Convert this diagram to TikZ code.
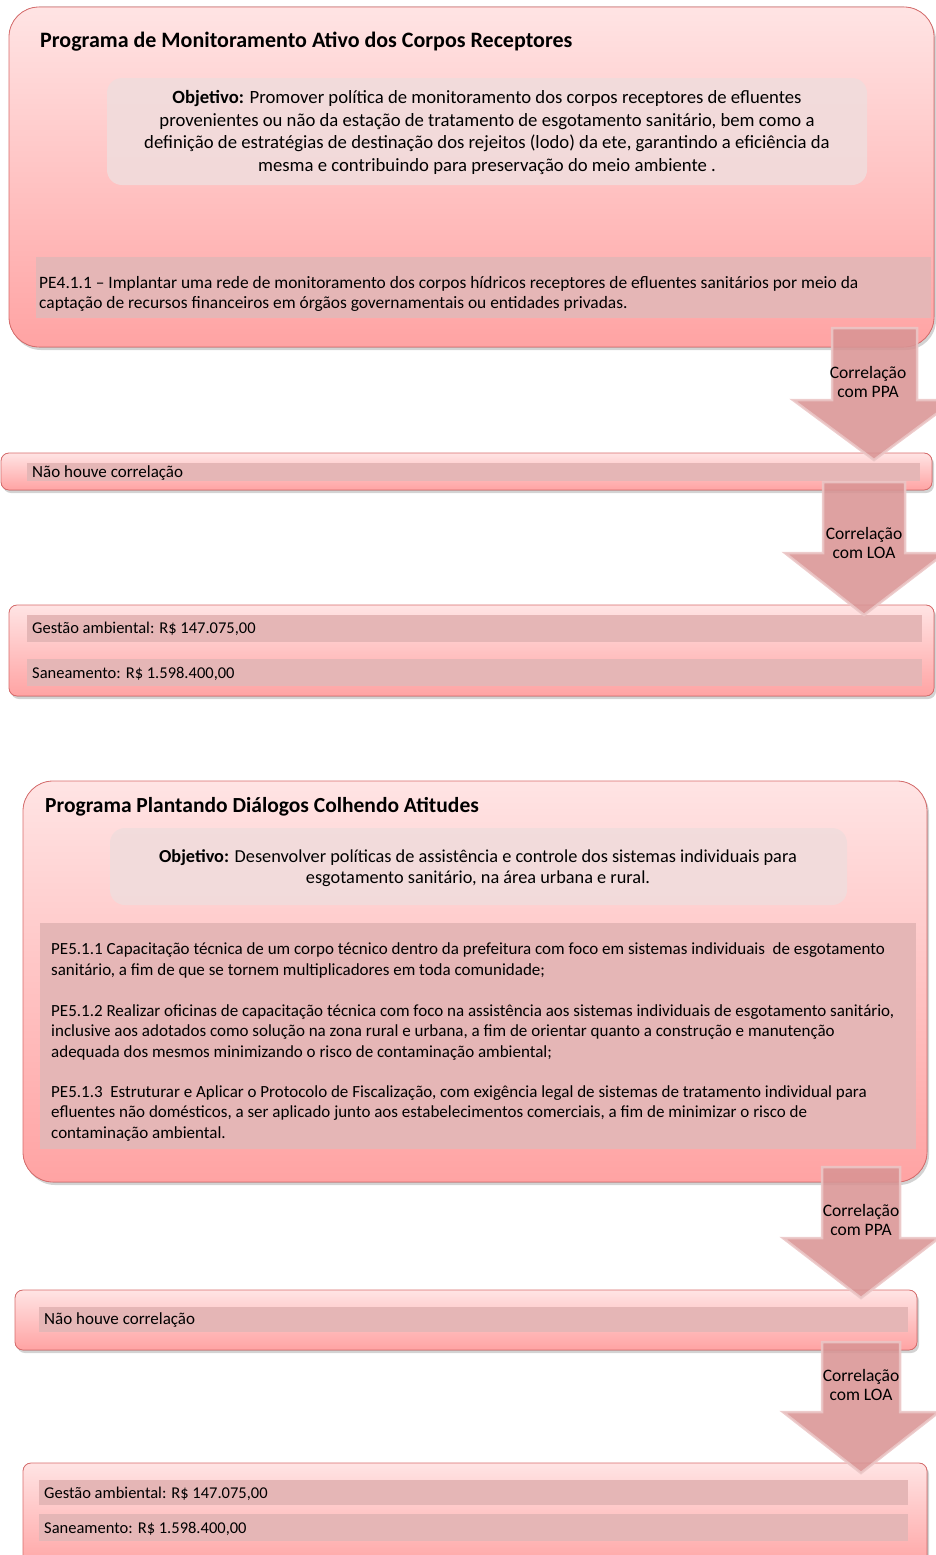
\documentclass[tikz,border=0pt]{standalone}
\usepackage{fontspec}
\setmainfont{Carlito}
\usepackage{tikz}
\usetikzlibrary{shadows}

\definecolor{boxtop}{HTML}{FFE4E4}
\definecolor{boxbot}{HTML}{FFA3A3}
\definecolor{boxline}{HTML}{D86C6C}
\definecolor{objfill}{HTML}{F1DCDC}
\definecolor{barfill}{HTML}{E5B6B6}
\definecolor{arrfill}{HTML}{D99494}
\definecolor{arrline}{HTML}{EBC6C6}

\tikzset{
  progbox/.style={draw=boxline, line width=0.8pt, top color=boxtop, bottom color=boxbot,
    rounded corners=30pt, drop shadow={opacity=0.35, shadow xshift=2pt, shadow yshift=-3pt}},
  resbox/.style={progbox, rounded corners=8pt},
  objbox/.style={fill=objfill, fill opacity=0.9, rounded corners=15pt},
  bar/.style={fill=barfill},
  flow/.style={fill=arrfill, draw=arrline, line width=2.5pt, fill opacity=0.88, draw opacity=0.9},
  title/.style={font=\fontsize{22}{26}\selectfont\bfseries, anchor=base west, inner sep=0pt},
  body/.style={font=\fontsize{17}{20.3}\selectfont, anchor=base west, inner sep=0pt, align=left},
  money/.style={body, font=\fontsize{16.5}{20}\selectfont},
  goal/.style={font=\fontsize{18.7}{22.5}\selectfont, anchor=base, inner sep=0pt, align=center},
  flowlabel/.style={font=\fontsize{17.5}{19.5}\selectfont, align=center, inner sep=0pt}
}

\begin{document}
\begin{tikzpicture}[x=1pt,y=-1pt]
\useasboundingbox (0,0) rectangle (936,1555);

% first programme
\filldraw[progbox] (9,7) rectangle (934,347);
\node[title] (progA) at (40,48) {Programa de Monitoramento Ativo dos Corpos Receptores};
\fill[objbox] (107,78) rectangle (867,185);
\node[goal] (goalA) at (487,171) {\textbf{Objetivo:} Promover política de monitoramento dos corpos receptores de efluentes\\
provenientes ou não da estação de tratamento de esgotamento sanitário, bem como a\\
definição de estratégias de destinação dos rejeitos (lodo) da ete, garantindo a eficiência da\\
mesma e contribuindo para preservação do meio ambiente .};
\fill[bar] (36,257) rectangle (931,318);
\node[body, font=\fontsize{17.4}{20}\selectfont] (peA) at (39,308) {PE4.1.1 – Implantar uma rede de monitoramento dos corpos hídricos receptores de efluentes sanitários por meio da\\
captação de recursos financeiros em órgãos governamentais ou entidades privadas.};

\filldraw[resbox] (1,453) rectangle (932,490);
\fill[bar] (27,463) rectangle (920,481);
\node[body] (ppaA) at (32,477) {Não houve correlação};

\filldraw[resbox] (9,605) rectangle (934,696);
\fill[bar] (27,615) rectangle (922,642);
\fill[bar] (27,659) rectangle (922,686);
\node[money] (loaA1) at (32,633) {Gestão ambiental: R\$ 147.075,00};
\node[money] (loaA2) at (32,678) {Saneamento: R\$ 1.598.400,00};

% arrows of the first programme
\filldraw[flow] (832,328) -- (917,328) -- (917,400) -- (955,400) -- (874,460) -- (793,400) -- (832,400) -- cycle;
\node[flowlabel] (corrA1) at (868,382) {Correlação\\com PPA};
\filldraw[flow] (823,482) -- (905,482) -- (905,553) -- (945,553) -- (864,615) -- (785,553) -- (823,553) -- cycle;
\node[flowlabel] (corrA2) at (864,543) {Correlação\\com LOA};

% second programme
\filldraw[progbox] (23,781) rectangle (927,1182);
\node[title, font=\fontsize{21.5}{26}\selectfont\bfseries] (progB) at (45,812) {Programa Plantando Diálogos Colhendo Atitudes};
\fill[objbox] (110,828) rectangle (847,905);
\node[goal, font=\fontsize{18.3}{21}\selectfont] (goalB) at (478,883) {\textbf{Objetivo:} Desenvolver políticas de assistência e controle dos sistemas individuais para\\
esgotamento sanitário, na área urbana e rural.};
\fill[bar] (40,923) rectangle (916,1149);
\node[body] (peB1) at (51,975) {PE5.1.1 Capacitação técnica de um corpo técnico dentro da prefeitura com foco em sistemas individuais \ de esgotamento\\
sanitário, a fim de que se tornem multiplicadores em toda comunidade;};
\node[body] (peB2) at (51,1057) {PE5.1.2 Realizar oficinas de capacitação técnica com foco na assistência aos sistemas individuais de esgotamento sanitário,\\
inclusive aos adotados como solução na zona rural e urbana, a fim de orientar quanto a construção e manutenção\\
adequada dos mesmos minimizando o risco de contaminação ambiental;};
\node[body] (peB3) at (51,1138) {PE5.1.3 \ Estruturar e Aplicar o Protocolo de Fiscalização, com exigência legal de sistemas de tratamento individual para\\
efluentes não domésticos, a ser aplicado junto aos estabelecimentos comerciais, a fim de minimizar o risco de\\
contaminação ambiental.};

\filldraw[resbox] (15,1290) rectangle (917,1350);
\fill[bar] (39,1307) rectangle (908,1332);
\node[body] (ppaB) at (44,1324) {Não houve correlação};

\filldraw[resbox] (23,1463) rectangle (927,1570);
\fill[bar] (39,1480) rectangle (908,1505);
\fill[bar] (39,1514) rectangle (908,1541);
\node[money] (loaB1) at (44,1498) {Gestão ambiental: R\$ 147.075,00};
\node[money] (loaB2) at (44,1533) {Saneamento: R\$ 1.598.400,00};

% arrows of the second programme
\filldraw[flow] (822,1167) -- (900,1167) -- (900,1238) -- (939,1238) -- (861,1298) -- (783,1238) -- (822,1238) -- cycle;
\node[flowlabel] (corrB1) at (861,1220) {Correlação\\com PPA};
\filldraw[flow] (822,1342) -- (900,1342) -- (900,1412) -- (939,1412) -- (861,1473) -- (783,1412) -- (822,1412) -- cycle;
\node[flowlabel] (corrB2) at (861,1385) {Correlação\\com LOA};
\end{tikzpicture}
\end{document}
